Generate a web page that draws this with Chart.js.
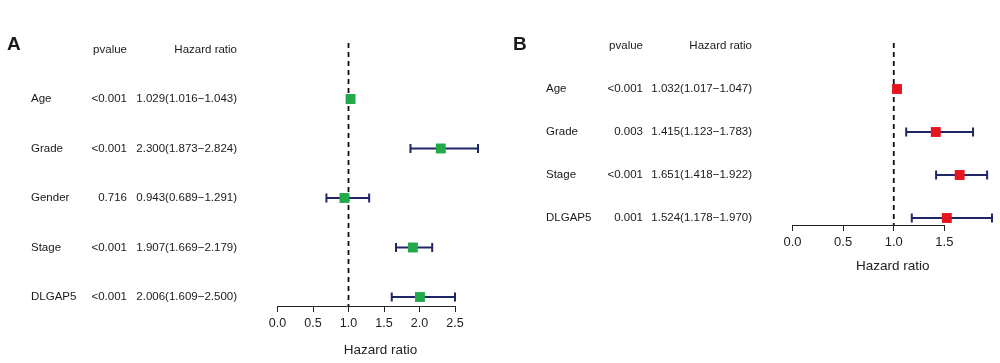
<!DOCTYPE html>
<html lang="en">
<head>
<meta charset="UTF-8">
<title>Forest plot</title>
<script src="https://cdn.jsdelivr.net/npm/chart.js"></script>
<style>
  body { margin: 0; background: #fff; }
  #wrap { position: relative; width: 1000px; height: 363px; }
  canvas { position: absolute; top: 0; }
  #chartA { left: 0; }
  #chartB { left: 500px; }
</style>
</head>
<body>
<div id="wrap">
  <canvas id="chartA" width="500" height="363"></canvas>
  <canvas id="chartB" width="500" height="363"></canvas>
</div>
<script>
// panel A
const rowsA = ['Age', 'Grade', 'Gender', 'Stage', 'DLGAP5'];
const pvalA = ['<0.001', '<0.001', '0.716', '<0.001', '<0.001'];
const hrA = [1.029, 2.300, 0.943, 1.907, 2.006];
const lowA = [1.016, 1.873, 0.689, 1.669, 1.609];
const highA = [1.043, 2.824, 1.291, 2.179, 2.500];
const ticksA = [0, 0.5, 1.0, 1.5, 2.0, 2.5];

// panel B
const rowsB = ['Age', 'Grade', 'Stage', 'DLGAP5'];
const pvalB = ['<0.001', '0.003', '<0.001', '0.001'];
const hrB = [1.032, 1.415, 1.651, 1.524];
const lowB = [1.017, 1.123, 1.418, 1.178];
const highB = [1.047, 1.783, 1.922, 1.970];
const ticksB = [0, 0.5, 1.0, 1.5];

const FONT = '"Liberation Sans", Arial, sans-serif';

function forest(id, o) {
  const hrText = o.hr.map((v, i) =>
    v.toFixed(3) + '(' + o.low[i].toFixed(3) + '\u2212' + o.high[i].toFixed(3) + ')');

  const forestPlugin = {
    id: 'forest',
    beforeDatasetsDraw(chart) {
      const c = chart.ctx, x = chart.scales.x, y = chart.scales.y, a = chart.chartArea;
      c.save();
      // dashed line at HR = 1
      const x1 = x.getPixelForValue(1);
      c.strokeStyle = '#111';
      c.lineWidth = 1.8;
      c.setLineDash([5, 4]);
      c.beginPath();
      c.moveTo(x1, a.top);
      c.lineTo(x1, a.bottom);
      c.stroke();
      c.setLineDash([]);
      // axis line, first tick to last tick only
      const ay = Math.round(a.bottom) + 0.5;
      c.strokeStyle = '#222';
      c.lineWidth = 1;
      c.beginPath();
      c.moveTo(x.getPixelForValue(o.ticks[0]), ay);
      c.lineTo(x.getPixelForValue(o.ticks[o.ticks.length - 1]), ay);
      c.stroke();
      // confidence intervals
      c.strokeStyle = '#1f2668';
      c.lineWidth = 2;
      o.rows.forEach((_, i) => {
        const py = y.getPixelForValue(i);
        const xl = x.getPixelForValue(o.low[i]);
        const xh = x.getPixelForValue(o.high[i]);
        c.beginPath();
        c.moveTo(xl, py); c.lineTo(xh, py);
        c.moveTo(xl, py - 4.5); c.lineTo(xl, py + 4.5);
        c.moveTo(xh, py - 4.5); c.lineTo(xh, py + 4.5);
        c.stroke();
      });
      c.restore();
    },
    afterDraw(chart) {
      const c = chart.ctx, y = chart.scales.y;
      c.save();
      c.fillStyle = '#1a1a1a';
      c.textBaseline = 'middle';
      // panel letter
      c.font = 'bold 19px ' + FONT;
      c.textAlign = 'left';
      c.fillText(o.letter, o.letterX, 45);
      // header
      c.font = '11.5px ' + FONT;
      const hy = y.getPixelForValue(-1);
      c.textAlign = 'right';
      c.fillText('pvalue', o.pX, hy);
      c.fillText('Hazard ratio', o.hrX, hy);
      // rows
      o.rows.forEach((r, i) => {
        const py = y.getPixelForValue(i);
        c.textAlign = 'left';
        c.fillText(r, o.labelX, py);
        c.textAlign = 'right';
        c.fillText(o.pval[i], o.pX, py);
        c.fillText(hrText[i], o.hrX, py);
      });
      c.restore();
    }
  };

  return new Chart(document.getElementById(id).getContext('2d'), {
    type: 'scatter',
    data: {
      datasets: [{
        data: o.hr.map((v, i) => ({ x: v, y: i })),
        pointStyle: 'rect',
        pointRadius: 7,
        pointHoverRadius: 7,
        backgroundColor: o.color,
        borderColor: o.color,
        borderWidth: 0,
        clip: false
      }]
    },
    options: {
      responsive: false,
      animation: false,
      devicePixelRatio: 1,
      events: [],
      layout: { padding: { left: o.padL, right: o.padR, top: 43, bottom: o.padB } },
      plugins: { legend: { display: false }, tooltip: { enabled: false } },
      scales: {
        x: {
          type: 'linear',
          min: 0,
          max: o.xMax,
          afterBuildTicks: s => { s.ticks = o.ticks.map(v => ({ value: v })); },
          afterFit: s => { s.height = o.axisH; },
          grid: { display: true, drawOnChartArea: false, drawTicks: true, tickLength: 6, color: '#222', lineWidth: 1 },
          border: { display: false },
          ticks: {
            color: '#222',
            font: { family: FONT, size: o.tickSize },
            padding: 4,
            maxRotation: 0,
            autoSkip: false,
            callback: v => Number(v).toFixed(1)
          },
          title: {
            display: true,
            text: 'Hazard ratio',
            color: '#222',
            font: { family: FONT, size: 13.5 },
            padding: { top: 0, bottom: 5 }
          }
        },
        y: { type: 'linear', display: false, reverse: true, min: o.yMin, max: o.yMax }
      }
    },
    plugins: [forestPlugin]
  });
}

forest('chartA', {
  letter: 'A', rows: rowsA, pval: pvalA, hr: hrA, low: lowA, high: highA, ticks: ticksA,
  color: '#22aa4a', xMax: 2.9, padL: 277.5, padR: 16.6, padB: 0, axisH: 57,
  yMin: -1.131, yMax: 4.182, tickSize: 12.5,
  letterX: 7, labelX: 31, pX: 127, hrX: 237
});

forest('chartB', {
  letter: 'B', rows: rowsB, pval: pvalB, hr: hrB, low: lowB, high: highB, ticks: ticksB,
  color: '#e3161f', xMax: 1.98, padL: 292.5, padR: 6.7, padB: 84, axisH: 54,
  yMin: -1.07, yMax: 3.163, tickSize: 13,
  letterX: 13, labelX: 46, pX: 143, hrX: 252
});
</script>
</body>
</html>
